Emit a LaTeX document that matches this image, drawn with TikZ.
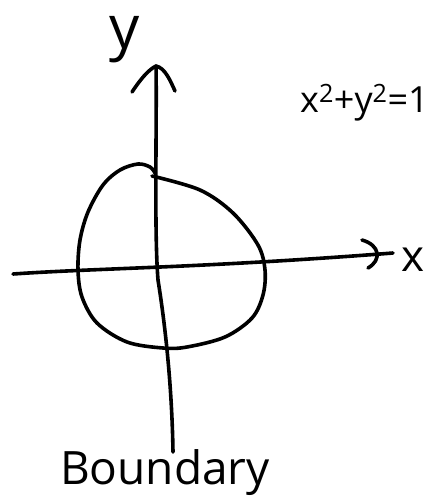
\documentclass[tikz,border=0pt]{standalone}
\usepackage{fontspec}
\setmainfont{Open Sans}
\begin{document}
\begin{tikzpicture}[x=1pt,y=-1pt,
  stroke/.style={line width=3.6pt,line cap=round,line join=round},
  lbl/.style={inner sep=0pt,anchor=base,font=\fontsize{#1}{#1}\selectfont}]
\useasboundingbox (0,0) rectangle (438,499);
\fill[white] (0,0) rectangle (438,499);
% axes coordinates
\coordinate (ytop) at (156,66);
\coordinate (ybot) at (173,452);
\coordinate (xleft) at (13,274);
\coordinate (xright) at (393,253);
% y axis
\draw[stroke] (ybot) .. controls (172,390) and (166,330) .. (158,280) .. controls (154,230) and (157,120) .. (ytop);
\draw[stroke] (132,92) .. controls (140,80) and (148,70) .. (ytop) .. controls (165,68) and (170,80) .. (175,91);
% x axis
\draw[stroke] (xleft) .. controls (100,268) and (200,268) .. (xright);
\draw[stroke] (362,240) .. controls (380,245) and (382,260) .. (368,268);
% closed curve
\draw[stroke] plot[smooth,tension=0.55] coordinates {(152,176) (200,190) (233,213) (258,245) (265,270) (263,295) (252,318) (225,337) (187,347) (163,348) (127,342) (97,323) (82,297) (78,270) (80,240) (88,212) (103,185) (120,170) (138,164) (150,167) (155,173)};
% labels
\node[lbl=60] (ylab) at (125,48) {y};
\node[lbl=44] (xlab) at (413,271) {x};
\node[lbl=36,anchor=base west] (eq) at (300,112) {x\textsuperscript{2}+y\textsuperscript{2}=1};
\node[lbl=46] (bnd) at (165,484) {Boundary};
\end{tikzpicture}
\end{document}
